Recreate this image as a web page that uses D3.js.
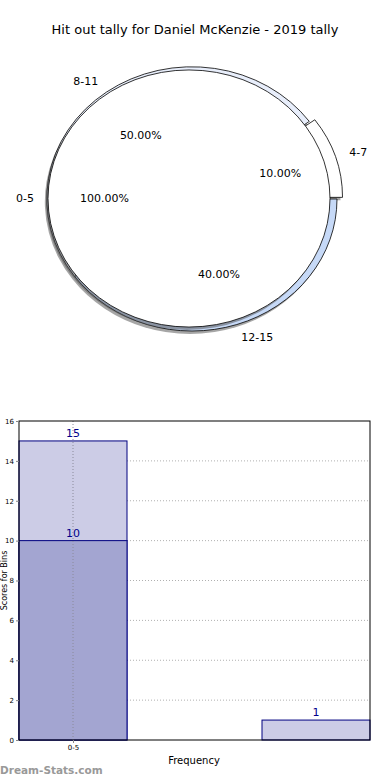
<!DOCTYPE html>
<html>
<head>
<meta charset="utf-8">
<script src="https://cdn.jsdelivr.net/npm/d3@7"></script>
<style>
  body { margin: 0; background: #fff; }
  text { font-family: "DejaVu Sans", sans-serif; }
</style>
</head>
<body>
<div id="chart"></div>
<script>
// pie data: inner pie is one bin, outer ring holds the rest
var innerLabels = ['0-5']
var innerValues = [1]
var outerLabels = ['4-7', '8-11', '12-15']
var outerValues = [1, 5, 4]
var outerColors = ['#ffffff', '#e8eefb', '#c6d9f7']
var outerExplode = [0.04, 0, 0]

// bar data
var barSeries1 = [15, 1]
var barSeries1Pos = [0, 2.25]
var barSeries2 = [10]
var barSeries2Pos = [0]
var xTickLabels = ['0-5']
var xTickPos = [0]
var yTicks = [0, 2, 4, 6, 8, 10, 12, 14, 16]

var w = 390, h = 780

var svg = d3.select('#chart').append('svg')
  .attr('width', w)
  .attr('height', h)

svg.append('text')
  .attr('x', 195).attr('y', 34)
  .attr('text-anchor', 'middle')
  .style('font-size', '13px')
  .text('Hit out tally for Daniel McKenzie - 2019 tally')

// matplotlib style pie: counter clockwise from 3 o'clock
var pie = d3.pie().sort(null)
  .startAngle(Math.PI / 2)
  .endAngle(Math.PI / 2 - 2 * Math.PI)

var pieLayer = svg.append('g')
var labelLayer = svg.append('g')

function drawPie(cx, cy, rx, ry, labels, values, colors, explode) {
  var k = ry / rx
  var arc = d3.arc().innerRadius(0).outerRadius(rx)
  var slices = pie(values)

  function mid(d) { return (d.startAngle + d.endAngle) / 2 }
  function shift(d, i) {
    var a = mid(d), e = explode[i] * rx
    return [e * Math.sin(a), -e * Math.cos(a) * k]
  }

  // shadows first
  slices.forEach(function(d, i) {
    var s = shift(d, i)
    pieLayer.append('path')
      .attr('transform', 'translate(' + (cx + s[0] - 2) + ',' + (cy + s[1] + 3) + ') scale(1,' + k + ')')
      .attr('d', arc(d))
      .attr('fill', '#4d4d4d')
      .attr('opacity', 0.5)
  })

  slices.forEach(function(d, i) {
    var s = shift(d, i)
    pieLayer.append('path')
      .attr('transform', 'translate(' + (cx + s[0]) + ',' + (cy + s[1]) + ') scale(1,' + k + ')')
      .attr('d', arc(d))
      .attr('fill', colors[i])
      .attr('stroke', '#000')
      .attr('stroke-width', 0.8)
      .attr('vector-effect', 'non-scaling-stroke')
  })

  var total = d3.sum(values)
  slices.forEach(function(d, i) {
    var s = shift(d, i)
    var a = mid(d)
    var sx = Math.sin(a), sy = -Math.cos(a)
    labelLayer.append('text')
      .attr('x', cx + s[0] + 1.1 * rx * sx)
      .attr('y', cy + s[1] + 1.1 * ry * sy)
      .attr('dy', '0.35em')
      .attr('text-anchor', sx >= 0 ? 'start' : 'end')
      .style('font-size', '11px')
      .text(labels[i])
    labelLayer.append('text')
      .attr('x', cx + s[0] + 0.6 * rx * sx)
      .attr('y', cy + s[1] + 0.6 * ry * sy)
      .attr('dy', '0.35em')
      .attr('text-anchor', 'middle')
      .style('font-size', '11px')
      .text((100 * d.value / total).toFixed(2) + '%')
  })
}

drawPie(192, 199, 145, 132, outerLabels, outerValues, outerColors, outerExplode)
drawPie(189, 198.5, 141, 128.5, innerLabels, innerValues, ['#ffffff'], [0])

// bar chart
var pLeft = 19, pRight = 370, pTop = 421, pBottom = 740

var x = d3.scaleLinear().domain([-0.5, 2.75]).range([pLeft, pRight])
var y = d3.scaleLinear().domain([0, 16]).range([pBottom, pTop])

var g = svg.append('g')

g.selectAll('.grid')
  .data(yTicks.slice(1, -1))
  .enter().append('line')
  .attr('x1', pLeft).attr('x2', pRight)
  .attr('y1', function(d) { return y(d) })
  .attr('y2', function(d) { return y(d) })
  .attr('stroke', '#b0b0b0')
  .attr('stroke-dasharray', '1,2')

function bars(vals, pos, color) {
  g.selectAll(null)
    .data(vals)
    .enter().append('rect')
    .attr('x', function(d, i) { return x(pos[i] - 0.5) })
    .attr('width', x(1) - x(0))
    .attr('y', function(d) { return y(d) })
    .attr('height', function(d) { return y(0) - y(d) })
    .attr('fill', color)
    .attr('stroke', '#000080')
    .attr('stroke-width', 1)
  g.selectAll(null)
    .data(vals)
    .enter().append('text')
    .attr('x', function(d, i) { return x(pos[i]) })
    .attr('y', function(d) { return y(d) - 4 })
    .attr('text-anchor', 'middle')
    .attr('fill', '#00008b')
    .style('font-size', '11px')
    .text(function(d) { return d })
}

bars(barSeries1, barSeries1Pos, '#ccccE6')
bars(barSeries2, barSeries2Pos, '#a3a5d1')

g.selectAll('.vgrid')
  .data(xTickPos)
  .enter().append('line')
  .attr('x1', function(d) { return x(d) })
  .attr('x2', function(d) { return x(d) })
  .attr('y1', pTop).attr('y2', pBottom)
  .attr('stroke', '#8a8a9a')
  .attr('stroke-dasharray', '1,2')

// frame
g.append('rect')
  .attr('x', pLeft).attr('y', pTop)
  .attr('width', pRight - pLeft).attr('height', pBottom - pTop)
  .attr('fill', 'none')
  .attr('stroke', '#000')
  .attr('stroke-width', 1)

var yAxis = d3.axisLeft(y).tickValues(yTicks).tickSize(3).tickPadding(2)
g.append('g')
  .attr('transform', 'translate(' + pLeft + ',0)')
  .call(yAxis)
  .call(function(s) {
    s.select('.domain').remove()
    s.selectAll('line').attr('stroke', '#888')
    s.selectAll('text').style('font-size', '7px').attr('fill', '#000')
  })

var xAxis = d3.axisBottom(x).tickValues(xTickPos)
  .tickFormat(function(d, i) { return xTickLabels[i] })
  .tickSize(3).tickPadding(2)
g.append('g')
  .attr('transform', 'translate(0,' + pBottom + ')')
  .call(xAxis)
  .call(function(s) {
    s.select('.domain').remove()
    s.selectAll('line').attr('stroke', '#888')
    s.selectAll('text').style('font-size', '7px').attr('fill', '#000')
  })

svg.append('text')
  .attr('x', 194).attr('y', 764)
  .attr('text-anchor', 'middle')
  .style('font-size', '10px')
  .text('Frequency')

svg.append('text')
  .attr('transform', 'translate(7,' + ((pTop + pBottom) / 2) + ') rotate(-90)')
  .attr('text-anchor', 'middle')
  .style('font-size', '8px')
  .text('Scores for Bins')

svg.append('text')
  .attr('x', 0).attr('y', 774)
  .attr('fill', '#999')
  .style('font-size', '10.5px')
  .style('font-weight', 'bold')
  .text('Dream-Stats.com')
</script>
</body>
</html>
